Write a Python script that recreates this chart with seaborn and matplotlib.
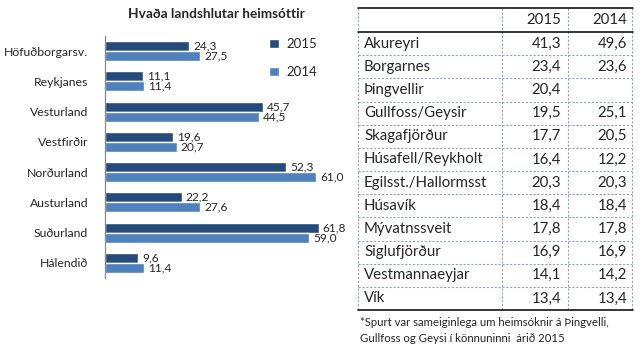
import pandas as pd
import matplotlib.pyplot as plt
import seaborn as sns

# left chart data
regions = ["Höfuðborgarsv.", "Reykjanes", "Vesturland", "Vestfirðir",
           "Norðurland", "Austurland", "Suðurland", "Hálendið"]
vals_2015 = [24.3, 11.1, 45.7, 19.6, 52.3, 22.2, 61.8, 9.6]
vals_2014 = [27.5, 11.4, 44.5, 20.7, 61.0, 27.6, 59.0, 11.4]
years = ["2015", "2014"]

# right table data
places = ["Akureyri", "Borgarnes", "Þingvellir", "Gullfoss/Geysir", "Skagafjörður",
          "Húsafell/Reykholt", "Egilsst./Hallormsst", "Húsavík", "Mývatnssveit",
          "Siglufjörður", "Vestmannaeyjar", "Vík"]
tab_2015 = ["41,3", "23,4", "20,4", "19,5", "17,7", "16,4", "20,3", "18,4", "17,8", "16,9", "14,1", "13,4"]
tab_2014 = ["49,6", "23,6", "", "25,1", "20,5", "12,2", "20,3", "18,4", "17,8", "16,9", "14,2", "13,4"]
footnote = ["*Spurt var sameiginlega um heimsóknir á Þingvelli,",
            "Gullfoss og Geysi í könnuninni  árið 2015"]

DARK = "#254A7C"
LIGHT = "#4F81BD"

sns.set_style("white")
plt.rcParams["font.family"] = ["Lato", "DejaVu Sans"]

df = pd.DataFrame({
    "region": regions * 2,
    "value": vals_2015 + vals_2014,
    "year": [years[0]] * len(regions) + [years[1]] * len(regions),
})

fig = plt.figure(figsize=(6.4, 3.51), dpi=100)
W, H = 640, 351

# bar chart
ax = fig.add_axes([105 / W, 1 - 278 / H, (347 - 105) / W, (278 - 36) / H])
sns.barplot(data=df, y="region", x="value", hue="year", order=regions,
            hue_order=years, palette=[DARK, LIGHT], orient="h",
            width=0.66, saturation=1, ax=ax)
ax.set_xlim(0, 70)
ax.set_xlabel("")
ax.set_ylabel("")
ax.set_xticks([])
ax.tick_params(axis="y", length=0, pad=12, labelsize=8.8)
for s in ["top", "right", "bottom"]:
    ax.spines[s].set_visible(False)
ax.spines["left"].set_color("#888888")
ax.spines["left"].set_linewidth(0.9)
for cont in ax.containers:
    ax.bar_label(cont, labels=[f"{v:.1f}".replace(".", ",") for v in cont.datavalues],
                 padding=3, fontsize=8.6)
ax.legend(frameon=False, loc="upper left", bbox_to_anchor=(0.63, 1.04),
          handlelength=0.7, handleheight=0.7, labelspacing=1.2, fontsize=9.5,
          handletextpad=0.6)
fig.text(216 / W, 1 - 14 / H, "Hvaða landshlutar heimsóttir", ha="center", va="center",
         fontsize=9.8, fontweight="bold")

# table drawn in pixel coordinates
tx = fig.add_axes([0, 0, 1, 1])
tx.set_xlim(0, W)
tx.set_ylim(H, 0)
tx.axis("off")
cols = [358, 502, 568, 632]
top, head = 8, 32
row_h = (310 - head) / len(places)
bottom = head + row_h * len(places)
grid = dict(color="#8DA4C4", lw=0.8, ls=(0, (2, 1.5)))
for c in cols:
    tx.plot([c, c], [top, bottom], **grid)
for i in range(1, len(places)):
    y = head + i * row_h
    tx.plot([cols[0], cols[-1]], [y, y], **grid)
for y in [top, head, bottom]:
    tx.plot([cols[0], cols[-1] + 1], [y, y], color="black", lw=1.1)
tfs = 10.8
tx.text(561, (top + head) / 2, years[0], ha="right", va="center", fontsize=tfs)
tx.text(627, (top + head) / 2, years[1], ha="right", va="center", fontsize=tfs)
for i, (p, a, b) in enumerate(zip(places, tab_2015, tab_2014)):
    yc = head + (i + 0.5) * row_h
    tx.text(364, yc, p, ha="left", va="center", fontsize=tfs)
    tx.text(561, yc, a, ha="right", va="center", fontsize=tfs)
    tx.text(627, yc, b, ha="right", va="center", fontsize=tfs)
for i, line in enumerate(footnote):
    tx.text(360, 322 + i * 16, line, ha="left", va="center", fontsize=8.2)

fig.savefig("out.png", dpi=100)
